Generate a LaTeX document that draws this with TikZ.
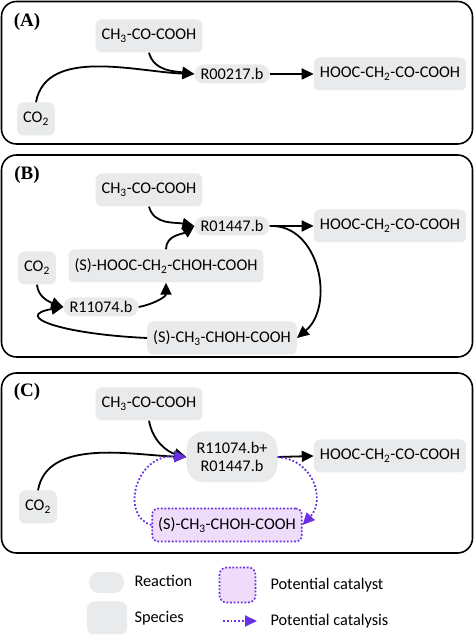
\documentclass[tikz,border=0pt]{standalone}
\usepackage{fontspec}
\setmainfont{Carlito}
\newfontfamily\labfont{Liberation Serif}
\usetikzlibrary{arrows.meta}
\definecolor{sgray}{RGB}{232,234,235}
\definecolor{pline}{RGB}{104,48,226}
\definecolor{pfill}{RGB}{238,220,250}
\newcommand{\sub}[1]{\textsubscript{#1}}
\tikzset{
  txt/.style={font=\fontsize{16.3}{18}\selectfont},
  species/.style={txt, fill=sgray, rounded corners=6pt, minimum height=33pt, inner xsep=6pt, inner ysep=2pt},
  reaction/.style={txt, fill=sgray, rounded corners=9pt, minimum height=19pt, inner xsep=6pt, inner ysep=1pt},
  catal/.style={species, fill=pfill, draw=pline, line width=1.6pt, dash pattern=on 1.8pt off 1.8pt},
  panel/.style={draw=black, line width=1.6pt, rounded corners=15pt},
  lab/.style={font=\labfont\bfseries\fontsize{19}{21}\selectfont},
  flow/.style={line width=1.8pt, -{Triangle[length=12pt,width=11pt]}},
  pflow/.style={line width=1.8pt, pline, dash pattern=on 1.8pt off 2pt, -{Triangle[length=12pt,width=11pt,fill=pline]}},
  legtxt/.style={txt, anchor=west},
}
\begin{document}
\begin{tikzpicture}[x=1pt,y=1pt]
\useasboundingbox (0,0) rectangle (474,636);
% panels
\draw[panel] (1.5,634.5) rectangle (472.5,492);
\draw[panel] (1.5,481) rectangle (472.5,279);
\draw[panel] (1.5,263) rectangle (472.5,83);

% ---- Panel A
\node[lab] (labA) at (27,614) {(A)};
\node[species] (chA) at (149,600) {CH\sub{3}-CO-COOH};
\node[reaction] (rA) at (232,562) {R00217.b};
\node[species] (hA) at (390,562) {HOOC-CH\sub{2}-CO-COOH};
\node[species] (coA) at (36,517) {CO\sub{2}};
\draw[flow] (chA.south) to[out=-75,in=172] (rA.west);
\draw[flow] (coA.north) to[out=80,in=178,looseness=0.9] (rA.west);
\draw[flow] (rA.east) -- (hA.west);

% ---- Panel B
\node[lab] (labB) at (27,461) {(B)};
\node[species] (chB) at (149,446) {CH\sub{3}-CO-COOH};
\node[reaction] (rB) at (232,410) {R01447.b};
\node[species] (hB) at (390,410) {HOOC-CH\sub{2}-CO-COOH};
\node[species] (coB) at (37,368) {CO\sub{2}};
\node[species] (sB) at (166,370) {(S)-HOOC-CH\sub{2}-CHOH-COOH};
\node[reaction] (r2B) at (101,329) {R11074.b};
\node[species] (lacB) at (222,298) {(S)-CH\sub{3}-CHOH-COOH};
\draw[flow] (chB.south) to[out=-75,in=168] (rB.west);
\draw[flow] (sB.north) to[out=90,in=215] (rB.west);
\draw[flow] (rB.east) -- (hB.west);
\draw[flow] (rB.east) .. controls (320,412) and (335,330) .. (lacB.east);
\draw[flow] (coB.south) to[out=-85,in=160] (r2B.west);
\draw[flow] (r2B.east) to[out=10,in=-90] (sB.south);
\draw[flow] (lacB.west) .. controls (60,302) and (12,320) .. (r2B.west);

% ---- Panel C
\node[lab] (labC) at (27,244) {(C)};
\node[species] (chC) at (149,232) {CH\sub{3}-CO-COOH};
\node[reaction, align=center, rounded corners=18pt, minimum height=51pt, minimum width=91pt, inner xsep=4pt] (rC) at (232,179) {R11074.b+\\R01447.b};
\node[species] (hC) at (390,180) {HOOC-CH\sub{2}-CO-COOH};
\node[species] (coC) at (38,129) {CO\sub{2}};
\node[catal] (lacC) at (227,111) {(S)-CH\sub{3}-CHOH-COOH};
\draw[flow] (chC.south) to[out=-80,in=165] (rC.west);
\draw[flow] (coC.north) to[out=80,in=178,looseness=0.9] (rC.west);
\draw[flow] (rC.east) -- (hC.west);
\draw[pflow] (rC.east) .. controls (315,176) and (325,135) .. (lacC.east);
\draw[pflow] (lacC.west) .. controls (120,120) and (135,182) .. (rC.west);

% ---- Legend
\node[fill=sgray, rounded corners=10pt, minimum width=35pt, minimum height=21pt, inner sep=0pt] (legR) at (106.5,53.5) {};
\node[legtxt] (legRt) at (131,55) {Reaction};
\node[fill=sgray, rounded corners=7pt, minimum width=40pt, minimum height=33pt, inner sep=0pt] (legS) at (107,18) {};
\node[legtxt] (legSt) at (131,18) {Species};
\node[fill=pfill, draw=pline, line width=1.6pt, dash pattern=on 1.8pt off 1.8pt, rounded corners=7pt, minimum width=36pt, minimum height=35pt, inner sep=0pt] (legC) at (237.5,51) {};
\node[legtxt] (legCt) at (267,51) {Potential catalyst};
\coordinate (la) at (223,15);
\coordinate (lb) at (257,15);
\draw[pflow] (la) -- (lb);
\node[legtxt] (legPt) at (267,15) {Potential catalysis};
\end{tikzpicture}
\end{document}
